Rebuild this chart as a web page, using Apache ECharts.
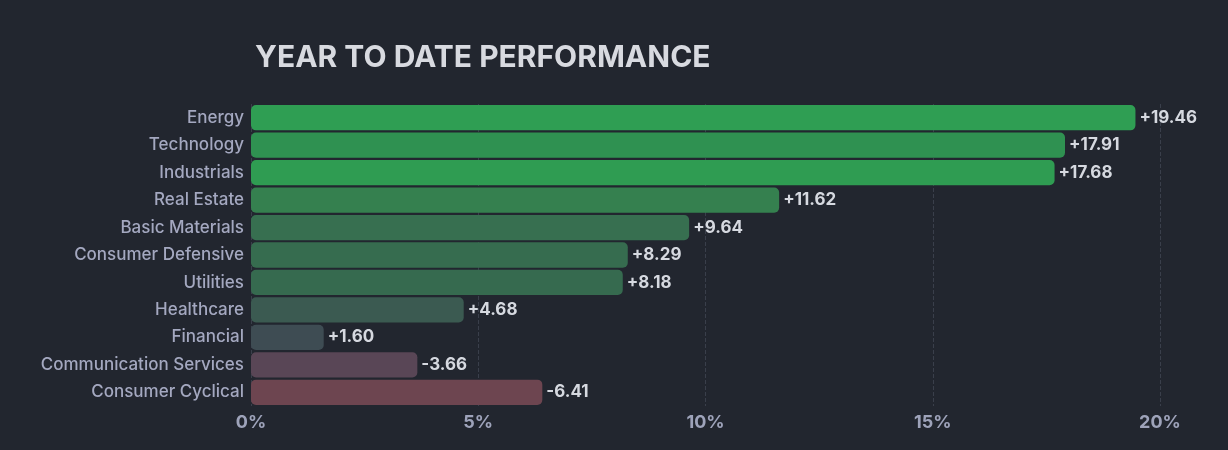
<!DOCTYPE html>
<html>
<head>
<meta charset="utf-8">
<script src="https://cdn.jsdelivr.net/npm/echarts@6/dist/echarts.min.js"></script>
<style>
  html, body { margin: 0; padding: 0; background: #22262f; }
  #chart { width: 1228px; height: 450px; }
</style>
</head>
<body>
<div id="chart"></div>
<script>
// sectors, top to bottom
var sectors = ['Energy', 'Technology', 'Industrials', 'Real Estate', 'Basic Materials',
  'Consumer Defensive', 'Utilities', 'Healthcare', 'Financial', 'Communication Services', 'Consumer Cyclical'];
var ytdValues = [19.46, 17.91, 17.68, 11.62, 9.64, 8.29, 8.18, 4.68, 1.60, -3.66, -6.41];
var barColors = ['#2f9e53', '#2f9151', '#2f9c52', '#35804f', '#376f50', '#366c4f',
  '#366a4f', '#3b5a51', '#3e4c53', '#594656', '#6d4550'];
var xTicks = [0, 5, 10, 15, 20];

var chart = echarts.init(document.getElementById('chart'));
var font = 'Inter, "Noto Sans", sans-serif';

chart.setOption({
  backgroundColor: '#22262f',
  animation: false,
  title: {
    text: 'YEAR TO DATE PERFORMANCE',
    left: 250, top: 38,
    textStyle: { color: '#d8dae0', fontSize: 30, fontWeight: 'bold', fontFamily: font }
  },
  grid: { left: 251, right: 68, top: 104, bottom: 44 },
  xAxis: {
    type: 'value', min: xTicks[0], max: xTicks[xTicks.length - 1], interval: 5,
    axisLine: { show: false }, axisTick: { show: false },
    axisLabel: { color: '#9ea3ba', fontSize: 18, fontWeight: 'bold', fontFamily: font,
      margin: 8, formatter: function (v) { return v + '%'; } },
    splitLine: { show: true, lineStyle: { color: '#3a3f4b', type: 'dashed' } }
  },
  yAxis: {
    type: 'category', inverse: true, data: sectors,
    axisLine: { show: false }, axisTick: { show: false },
    axisLabel: { color: '#a4a8c0', fontSize: 17, fontWeight: 500, fontFamily: font, margin: 7 },
    splitLine: { show: false }
  },
  series: [{
    type: 'bar',
    barCategoryGap: '8%',
    data: ytdValues.map(function (v, i) {
      return { value: Math.abs(v), raw: v, itemStyle: { color: barColors[i], borderRadius: 5 } };
    }),
    label: {
      show: true, position: 'right', distance: 4,
      color: '#d6d9e0', fontSize: 17, fontWeight: 'bold', fontFamily: font,
      formatter: function (p) {
        var v = ytdValues[p.dataIndex];
        return (v >= 0 ? '+' : '') + v.toFixed(2);
      }
    }
  }]
});
</script>
</body>
</html>
